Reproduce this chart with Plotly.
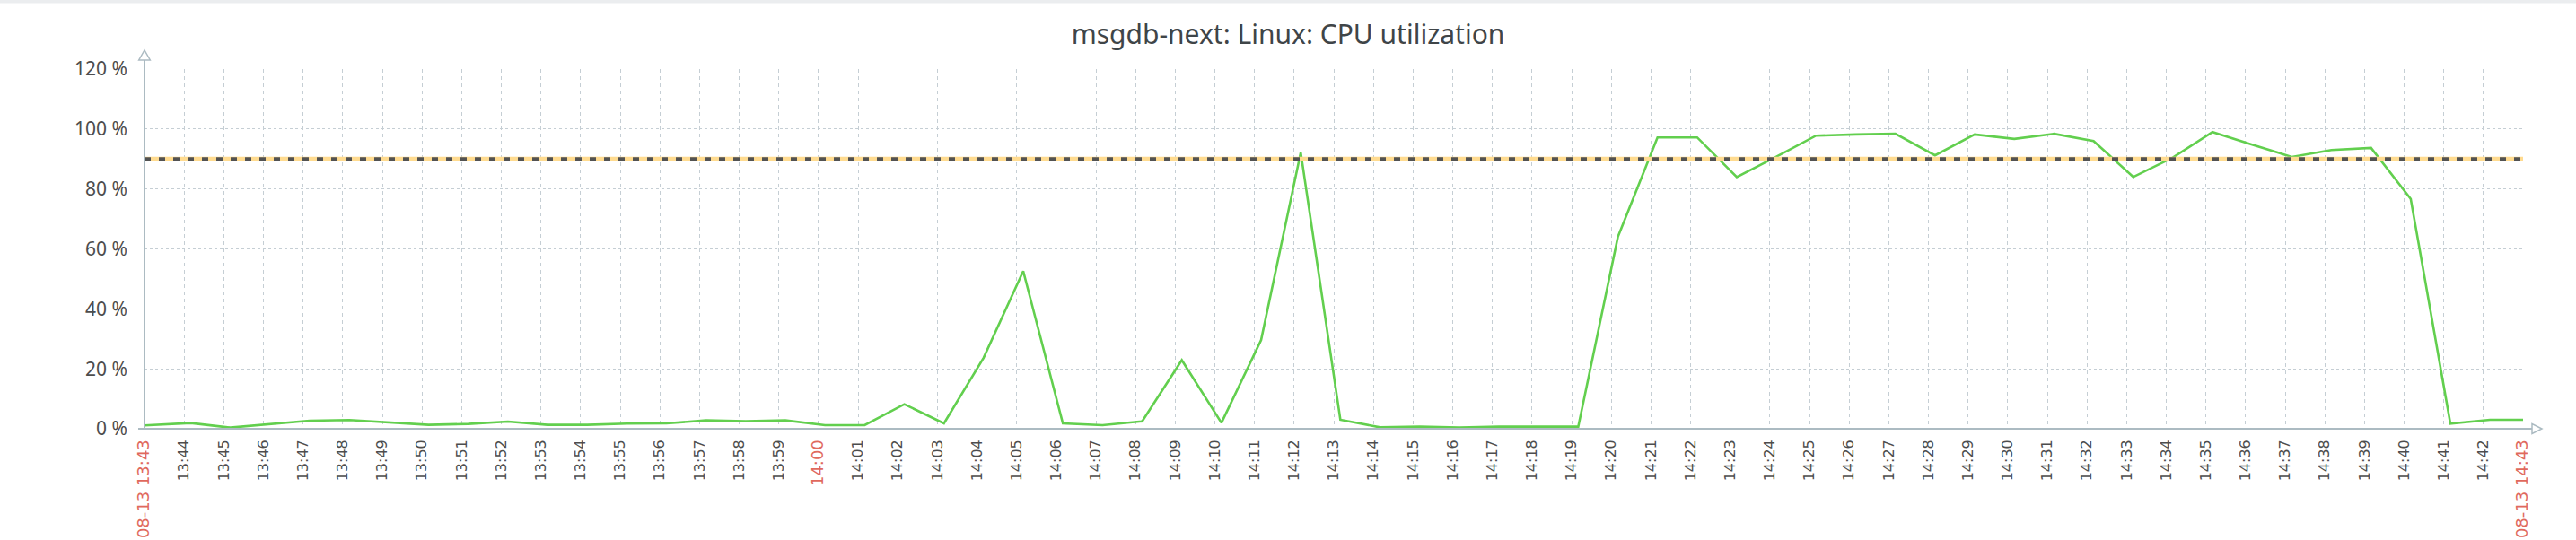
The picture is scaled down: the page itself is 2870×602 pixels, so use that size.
import plotly.graph_objects as go
import pandas as pd

# ---------------- data ----------------
title_text = "msgdb-next: Linux: CPU utilization"
x_start = "2024-08-13 13:43:00"
x_end = "2024-08-13 14:43:00"

# sample timestamps: range start, one sample every minute at :10, range end
sample_times = ([pd.Timestamp(x_start)]
                + [pd.Timestamp("2024-08-13 13:44:10") + pd.Timedelta(minutes=k) for k in range(59)]
                + [pd.Timestamp(x_end)])

cpu_util = [
    1.1, 1.9, 0.4, 1.6, 2.7, 2.9, 2.1, 1.3, 1.6, 2.4,      # 13:43 - 13:52
    1.3, 1.3, 1.7, 1.8, 2.8, 2.5, 2.8, 1.2, 1.2, 8.2,      # 13:53 - 14:02
    1.8, 23.7, 52.6, 1.8, 1.2, 2.5, 22.9, 2.0, 29.6, 92.2, # 14:03 - 14:12
    3.0, 0.5, 0.7, 0.4, 0.7, 0.7, 0.7, 64.0, 97.2, 97.2,   # 14:13 - 14:22
    84.0, 90.8, 97.8, 98.2, 98.4, 91.2, 98.2, 96.7, 98.4, 96.0,  # 14:23 - 14:32
    84.0, 90.5, 99.0, 94.8, 90.7, 93.0, 93.7, 76.7, 1.7, 3.0,    # 14:33 - 14:42
    3.0,                                                    # 14:43
]

threshold = 90

tick_times = pd.date_range(x_start, x_end, freq="1min")
red_labels = {"13:43": "08-13 13:43", "14:00": "14:00", "14:43": "08-13 14:43"}

y_ticks = [0, 20, 40, 60, 80, 100, 120]
y_tick_text = ["0 %", "20 %", "40 %", "60 %", "80 %", "100 %", "120 %"]

# ---------------- styles ----------------
LINE_GREEN = "#62cf4e"
THR_YELLOW = "#ffdb90"
THR_DARK = "#525252"
GRID = "#c5ced4"
AXIS = "#acbbc2"
RED = "#e0695d"
TXT = "#4d4d4d"

tick_text = []
for t in tick_times:
    hm = t.strftime("%H:%M")
    if hm in red_labels:
        tick_text.append(f"<span style='color:{RED};font-size:18px'>{red_labels[hm]}</span>")
    else:
        tick_text.append(hm)

fig = go.Figure()
fig.add_trace(go.Scatter(x=sample_times, y=cpu_util, mode="lines",
                         line=dict(color=LINE_GREEN, width=2.6), hoverinfo="skip"))
fig.add_trace(go.Scatter(x=[x_start, x_end], y=[threshold, threshold], mode="lines",
                         line=dict(color=THR_YELLOW, width=5), hoverinfo="skip"))
fig.add_trace(go.Scatter(x=[x_start, x_end], y=[threshold, threshold], mode="lines",
                         line=dict(color=THR_DARK, width=4, dash="7px,9px"), hoverinfo="skip"))

PLOT_W = 2870 - 161 - 59
PLOT_H = 602 - 77 - 124

shapes = [
    # light gray strip at top of page
    dict(type="rect", xref="paper", x0=-0.07, x1=1.03, yref="paper", ysizemode="pixel",
         yanchor=1, y0=73.5, y1=80, fillcolor="#ebedef", line=dict(width=0), layer="above"),
    # y axis line
    dict(type="line", xref="paper", x0=0, x1=0, yref="paper", ysizemode="pixel", yanchor=0,
         y0=0, y1=PLOT_H + 10, line=dict(color=AXIS, width=2)),
    # y axis arrow
    dict(type="path", xref="paper", xsizemode="pixel", xanchor=0,
         yref="paper", ysizemode="pixel", yanchor=1,
         path="M -6.3,10 L 6.3,10 L 0,21 Z", line=dict(color=AXIS, width=1.5), fillcolor="white"),
    # x axis line
    dict(type="line", yref="paper", y0=0, y1=0, xref="paper", xsizemode="pixel", xanchor=0,
         x0=-7, x1=PLOT_W + 10, line=dict(color=AXIS, width=2)),
    # x axis arrow
    dict(type="path", xref="paper", xsizemode="pixel", xanchor=0,
         yref="paper", ysizemode="pixel", yanchor=0,
         path=f"M {PLOT_W+10},-5.5 L {PLOT_W+10},5.5 L {PLOT_W+21},0 Z",
         line=dict(color=AXIS, width=1.5), fillcolor="white"),
]

fig.update_layout(
    width=2870, height=602,
    margin=dict(l=161, r=59, t=77, b=124, pad=0, autoexpand=False),
    paper_bgcolor="white", plot_bgcolor="white",
    showlegend=False,
    title=dict(text=title_text, x=0.5, xref="container", xanchor="center",
               y=1 - 38 / 602, yref="container", yanchor="middle",
               font=dict(family="Noto Sans", size=30, color="#3f4548")),
    xaxis=dict(type="date", range=[x_start, x_end], tickmode="array",
               tickvals=list(tick_times), ticktext=tick_text, tickangle=-90,
               tickfont=dict(family="DejaVu Sans", size=16, color=TXT),
               showgrid=True, gridcolor=GRID, gridwidth=1, griddash="4px,4px",
               zeroline=False, showline=False, ticks="", ticklabelstandoff=8,
               automargin=False),
    yaxis=dict(range=[0, 120], tickmode="array", tickvals=y_ticks, ticktext=y_tick_text,
               tickfont=dict(family="Noto Sans", size=21, color=TXT),
               showgrid=True, gridcolor=GRID, gridwidth=1, griddash="3px,3px",
               zeroline=False, showline=False, ticks="", ticklabelstandoff=18,
               automargin=False),
    shapes=shapes,
)

fig.write_html("out.html",
               config={"displayModeBar": False, "staticPlot": True},
               post_script="document.body.style.margin='0';document.body.style.overflow='hidden';")
